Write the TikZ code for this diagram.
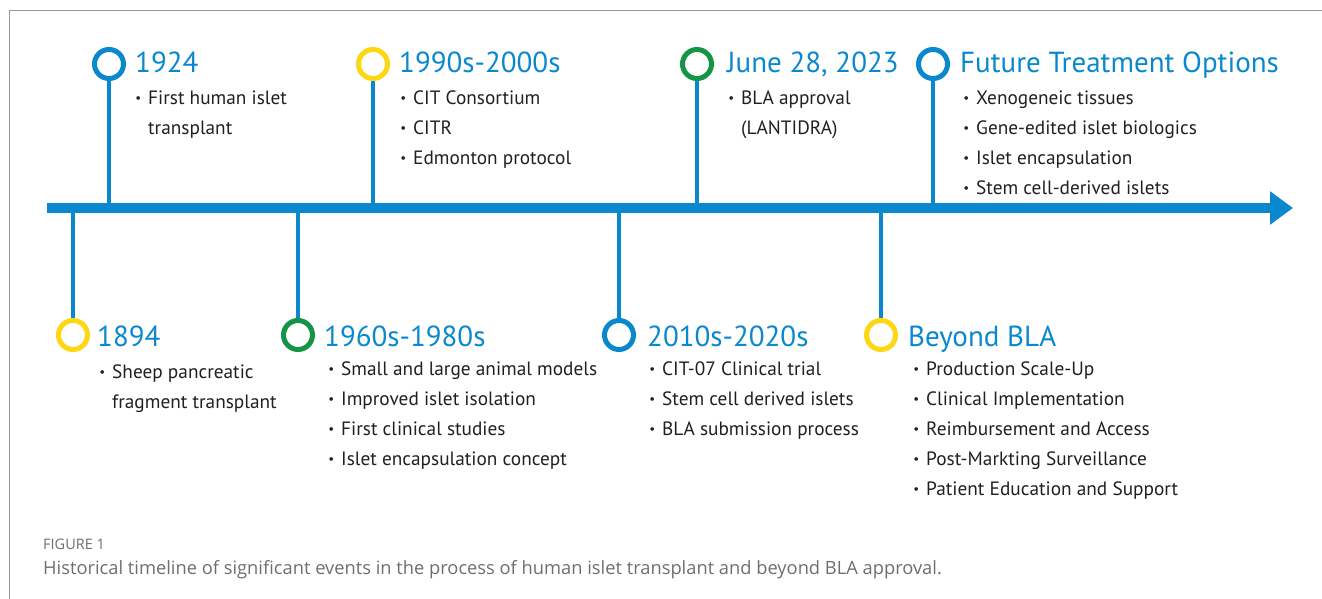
\documentclass[tikz,border=0pt]{standalone}
\usepackage{fontspec}
\setmainfont{PT Sans}
\newfontfamily\capfont{Open Sans}
\usetikzlibrary{arrows.meta}
\definecolor{tlblue}{HTML}{0A88CE}
\definecolor{tlgreen}{HTML}{149447}
\definecolor{tlyellow}{HTML}{FDD714}
\definecolor{tltext}{HTML}{231F20}
\definecolor{capgray}{HTML}{6D6E70}
% small bullet, centred in a fixed-width box
\newcommand\bul{\makebox[6pt]{\fontsize{13}{13}\selectfont\raisebox{2pt}{•}}}
% bullet list: first row's baseline is the node's baseline
\newcommand\evlist[1]{{\fontsize{19.3}{30}\selectfont\begin{tabular}[t]{@{}c@{\hspace{7pt}}l@{}}#1\end{tabular}}}
\tikzset{
  ring/.style={circle, draw=#1, line width=5pt, minimum size=29pt, inner sep=0pt},
  stem/.style={draw=tlblue, line width=4pt},
  evtitle/.style={anchor=base west, inner sep=0pt, text=tlblue, font=\fontsize{29}{29}\selectfont},
  evitems/.style={anchor=base west, inner sep=0pt, text=tltext, xshift=-13pt},
}
\begin{document}
\begin{tikzpicture}[x=1pt,y=-1pt]
\useasboundingbox (0,0) rectangle (1322,599);
% outer frame (left and top rules)
\draw[color=gray!80, line width=1.3pt] (9.5,599) -- (9.5,10.5) -- (1322,10.5);

% time axis
\coordinate (axL) at (47,208);
\coordinate (axR) at (1293,208);
\draw[tlblue, line width=10pt, -{Triangle[length=23pt,width=32pt]}] (axL) -- (axR);

% events above the axis
\node[ring=tlblue]   (c1924)   at (109,64) {};
\node[ring=tlyellow] (c1990)   at (373,64) {};
\node[ring=tlgreen]  (c2023)   at (697,64) {};
\node[ring=tlblue]   (cfuture) at (933,64) {};
% events below the axis
\node[ring=tlyellow] (c1894)   at (73,335) {};
\node[ring=tlgreen]  (c1960)   at (298,335) {};
\node[ring=tlblue]   (c2010)   at (619,335) {};
\node[ring=tlyellow] (cbeyond) at (881,335) {};

% stems joining the rings to the axis
\foreach \c in {c1924,c1990,c2023,cfuture}
  \draw[stem] (\c.south) -- (\c |- axL);
\foreach \c in {c1894,c1960,c2010,cbeyond}
  \draw[stem] (\c |- axL) -- (\c.north);

% titles
\node[evtitle] (t1924)   at (135,73)  {1924};
\node[evtitle] (t1990)   at (399,73)  {1990s-2000s};
\node[evtitle] (t2023)   at (727,73)  {June 28, 2023};
\node[evtitle] (tfuture) at (960,73)  {Future Treatment Options};
\node[evtitle] (t1894)   at (97,346)  {1894};
\node[evtitle] (t1960)   at (324,346) {1960s-1980s};
\node[evtitle] (t2010)   at (647,346) {2010s-2020s};
\node[evtitle] (tbeyond) at (908,346) {Beyond BLA};

% bullet lists (positions are where the item text starts)
\node[evitems] (l1924) at (148,105) {\evlist{\bul & First human islet\\ & transplant}};
\node[evitems] (l1990) at (413,105) {\evlist{\bul & CIT Consortium\\ \bul & CITR\\ \bul & Edmonton protocol}};
\node[evitems] (l2023) at (741,105) {\evlist{\bul & BLA approval\\ & (LANTIDRA)}};
\node[evitems] (lfuture) at (976,105) {\evlist{\bul & Xenogeneic tissues\\ \bul & Gene-edited islet biologics\\ \bul & Islet encapsulation\\ \bul & Stem cell-derived islets}};
\node[evitems] (l1894) at (112,378) {\evlist{\bul & Sheep pancreatic\\ & fragment transplant}};
\node[evitems] (l1960) at (341,375) {\evlist{\bul & Small and large animal models\\ \bul & Improved islet isolation\\ \bul & First clinical studies\\ \bul & Islet encapsulation concept}};
\node[evitems] (l2010) at (662,375) {\evlist{\bul & CIT-07 Clinical trial\\ \bul & Stem cell derived islets\\ \bul & BLA submission process}};
\node[evitems] (lbeyond) at (926,375) {\evlist{\bul & Production Scale-Up\\ \bul & Clinical Implementation\\ \bul & Reimbursement and Access\\ \bul & Post-Markting Surveillance\\ \bul & Patient Education and Support}};

% caption
\node[anchor=base west, inner sep=0pt, text=capgray, font=\capfont\fontsize{14.5}{14.5}\selectfont] (figlabel) at (43,549) {FIGURE 1};
\node[anchor=base west, inner sep=0pt, text=capgray, font=\capfont\fontsize{18.3}{18.3}\selectfont] (figcap) at (43,574) {Historical timeline of significant events in the process of human islet transplant and beyond BLA approval.};
\end{tikzpicture}
\end{document}
